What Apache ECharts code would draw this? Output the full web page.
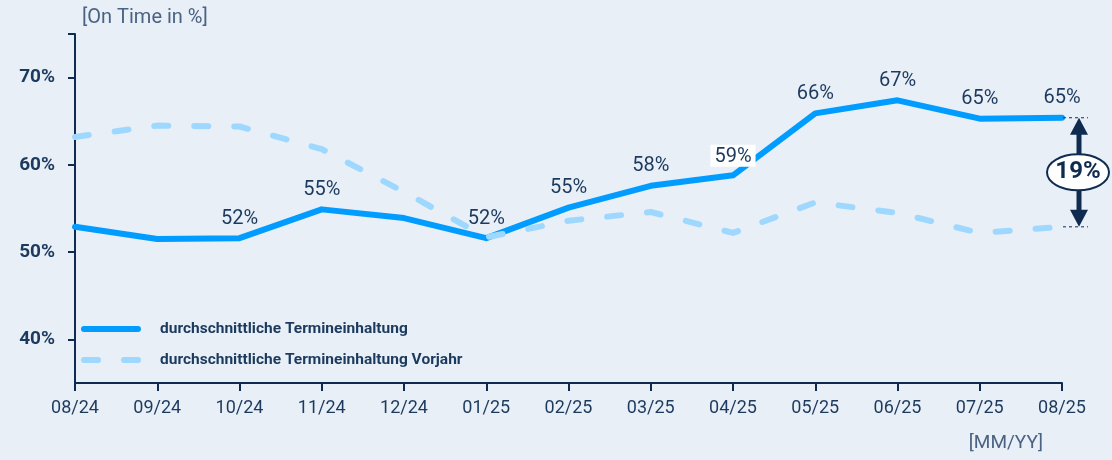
<!DOCTYPE html>
<html>
<head>
<meta charset="utf-8">
<script src="https://cdn.jsdelivr.net/npm/echarts@6/dist/echarts.min.js"></script>
<style>
  html, body { margin: 0; padding: 0; background: #e8eff7; }
  #chart { width: 1112px; height: 460px; }
</style>
</head>
<body>
<div id="chart"></div>
<script>
  // months on the x axis
  var months = ['08/24', '09/24', '10/24', '11/24', '12/24', '01/25', '02/25', '03/25', '04/25', '05/25', '06/25', '07/25', '08/25'];
  // average on-time rate, current period (%)
  var onTime = [52.9, 51.5, 51.6, 54.9, 53.9, 51.6, 55.1, 57.6, 58.8, 65.9, 67.4, 65.3, 65.4];
  // average on-time rate, previous year (%)
  var onTimePrevYear = [63.2, 64.5, 64.4, 61.8, 56.9, 51.7, 53.6, 54.6, 52.2, 55.7, 54.5, 52.2, 52.9];
  // which points of the current series carry a value label
  var showLabel = [false, false, true, true, false, true, true, true, true, true, true, true, true];
  var boxedLabel = '04/25';
  var yTicks = [40, 50, 60, 70];
  var deltaText = '19%';

  var NAVY = '#0f2c50';
  var TEXT = '#1c3a5e';
  var FONT = 'Roboto, "Noto Sans", sans-serif';

  var chart = echarts.init(document.getElementById('chart'));

  var solidData = onTime.map(function (v, i) {
    var item = { value: v, label: { show: showLabel[i] } };
    if (months[i] === boxedLabel) {
      item.label.backgroundColor = '#ffffff';
      item.label.padding = [2, 4, 0, 4];
      item.label.distance = 8;
    }
    return item;
  });

  var option = {
    backgroundColor: '#e8eff7',
    animation: false,
    grid: { left: 75, right: 50, top: 34, bottom: 77 },
    legend: {
      orient: 'vertical',
      left: 76,
      top: 316,
      itemWidth: 54,
      itemHeight: 14,
      itemGap: 15,
      itemStyle: { opacity: 0 },
      lineStyle: { width: 6, cap: 'round' },
      textStyle: { color: TEXT, fontFamily: FONT, fontSize: 15.5, fontWeight: 'bold', padding: [0, 0, 0, 17] },
      data: ['durchschnittliche Termineinhaltung', 'durchschnittliche Termineinhaltung Vorjahr']
    },
    xAxis: {
      type: 'category',
      data: months,
      boundaryGap: false,
      axisLine: { lineStyle: { color: NAVY, width: 2 } },
      axisTick: { length: 8, lineStyle: { color: NAVY, width: 2 } },
      axisLabel: { color: TEXT, fontFamily: FONT, fontSize: 18, margin: 16 },
      name: '[MM/YY]',
      nameLocation: 'end',
      nameGap: -19,
      nameTextStyle: { color: '#4a6283', fontFamily: FONT, fontSize: 19, align: 'right', verticalAlign: 'top', padding: [51, 0, 0, 0] }
    },
    yAxis: {
      type: 'value',
      min: 35,
      max: 75,
      splitLine: { show: false },
      axisLine: { show: true, lineStyle: { color: NAVY, width: 2 } },
      axisTick: { show: true, length: 7, lineStyle: { color: NAVY, width: 2 }, customValues: yTicks.concat([75]) },
      axisLabel: {
        color: TEXT, fontFamily: FONT, fontSize: 19, fontWeight: 'bold', margin: 20,
        customValues: yTicks,
        formatter: function (v) { return v + '%'; }
      },
      name: '[On Time in %]',
      nameLocation: 'end',
      nameGap: 6,
      nameTextStyle: { color: '#4a6283', fontFamily: FONT, fontSize: 20, align: 'left', verticalAlign: 'bottom', padding: [0, 0, 0, 7] }
    },
    series: [
      {
        name: 'durchschnittliche Termineinhaltung',
        type: 'line',
        data: solidData,
        symbol: 'circle',
        symbolSize: 1,
        lineStyle: { color: '#009cff', width: 6, cap: 'round', join: 'round' },
        itemStyle: { color: '#009cff' },
        label: {
          position: 'top',
          distance: 9,
          color: TEXT,
          fontFamily: FONT,
          fontSize: 20,
          formatter: function (p) { return Math.round(p.value) + '%'; }
        },
        z: 2
      },
      {
        name: 'durchschnittliche Termineinhaltung Vorjahr',
        type: 'line',
        data: onTimePrevYear,
        symbol: 'none',
        lineStyle: { color: '#9ed8ff', width: 6, type: [14, 26], cap: 'round', join: 'round' },
        itemStyle: { color: '#9ed8ff' },
        z: 3
      }
    ]
  };

  chart.setOption(option);

  // difference annotation right of the last month, positioned from the data
  var last = months.length - 1;
  var pTop = chart.convertToPixel({ gridIndex: 0 }, [last, onTime[last]]);
  var pBot = chart.convertToPixel({ gridIndex: 0 }, [last, onTimePrevYear[last]]);
  var ax = pTop[0] + 17;
  var midY = (pTop[1] + pBot[1]) / 2;

  chart.setOption({
    graphic: [
      { type: 'line', shape: { x1: pTop[0] + 1, y1: pTop[1], x2: pTop[0] + 26, y2: pTop[1] }, style: { stroke: NAVY, lineWidth: 1, lineDash: [3, 3] }, z: 10 },
      { type: 'line', shape: { x1: pBot[0] + 1, y1: pBot[1], x2: pBot[0] + 26, y2: pBot[1] }, style: { stroke: NAVY, lineWidth: 1, lineDash: [3, 3] }, z: 10 },
      { type: 'line', shape: { x1: ax, y1: pTop[1] + 14, x2: ax, y2: pBot[1] - 14 }, style: { stroke: NAVY, lineWidth: 5 }, z: 10 },
      { type: 'polygon', shape: { points: [[ax, pTop[1]], [ax - 9, pTop[1] + 17], [ax + 9, pTop[1] + 17]] }, style: { fill: NAVY }, z: 10 },
      { type: 'polygon', shape: { points: [[ax, pBot[1]], [ax - 9, pBot[1] - 17], [ax + 9, pBot[1] - 17]] }, style: { fill: NAVY }, z: 10 },
      { type: 'ellipse', shape: { cx: ax - 1, cy: midY, rx: 31, ry: 18 }, style: { fill: '#ffffff', stroke: NAVY, lineWidth: 2 }, z: 11 },
      { type: 'text', x: ax - 1, y: midY, style: { text: deltaText, fill: NAVY, font: 'bold 24px ' + FONT, align: 'center', verticalAlign: 'middle' }, z: 12 }
    ]
  });
</script>
</body>
</html>
